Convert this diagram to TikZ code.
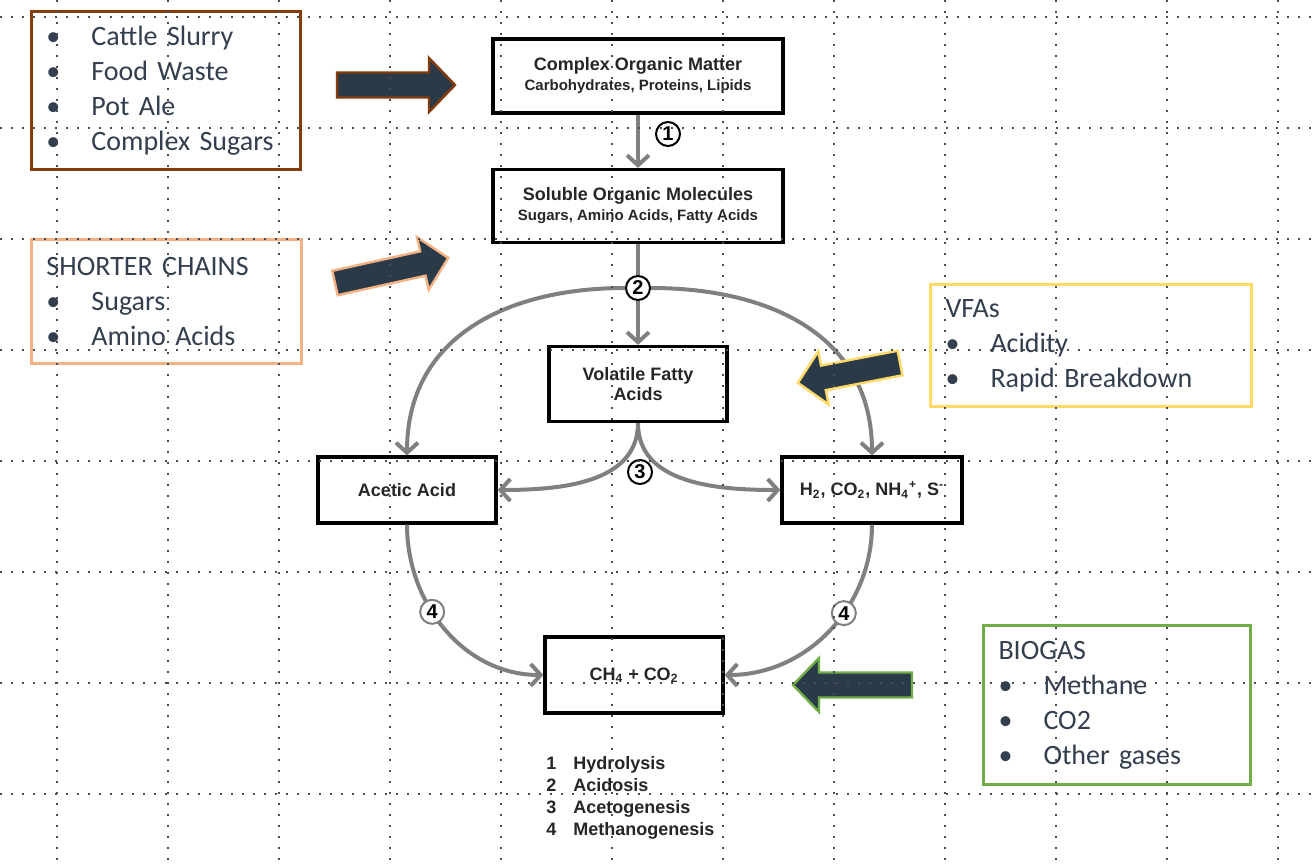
\documentclass[tikz,border=0pt]{standalone}
\usepackage{fontspec}
\setmainfont{Carlito}
\newfontfamily\arialfont{Liberation Sans}
\usetikzlibrary{arrows.meta}

\definecolor{brownc}{HTML}{843C0C}
\definecolor{orangec}{HTML}{F4B183}
\definecolor{yellowc}{HTML}{FFD966}
\definecolor{greenc}{HTML}{70AD47}
\definecolor{textc}{HTML}{333F4F}
\definecolor{arrowc}{HTML}{2B3A48}
\definecolor{linec}{HTML}{808080}

\newcommand{\bul}{\makebox[22.5pt][l]{\textbullet}}
% block arrow: colour, tail centre, angle, length
\newcommand{\blockarrow}[4]{%
  \filldraw[fill=arrowc, draw=#1, line width=1.2pt, line join=miter, shift={#2}, rotate=#3]
    (0,-12.5) -- ({#4-26},-12.5) -- ({#4-26},-27) -- (#4,0) -- ({#4-26},27)
    -- ({#4-26},12.5) -- (0,12.5) -- cycle;}

\tikzset{
  callout/.style={draw, line width=1.5pt, text=textc, align=left, inner xsep=7.5pt,
    inner ysep=0pt, anchor=north west, font=\fontsize{14}{17.5}\selectfont},
  stage/.style={draw, line width=1.6pt, fill=white, align=center, inner sep=0pt,
    text=black!85, font=\arialfont\bfseries\fontsize{9}{10}\selectfont},
  num/.style={circle, draw, line width=1pt, fill=white, inner sep=0pt, minimum size=12pt,
    font=\arialfont\bfseries\fontsize{10}{10}\selectfont},
  flow/.style={draw=linec, line width=2pt, -{Straight Barb[length=5pt,width=11pt]}},
  griddots/.style={black!70, line width=1pt, dash pattern=on 1pt off 4.5pt}
}
\newcommand{\subt}[1]{{\fontsize{7.5}{9}\selectfont #1}}

\begin{document}
\begin{tikzpicture}[x=0.5pt, y=-0.5pt]
  \useasboundingbox (0,0) rectangle (1315,865);
  \fill[white] (0,0) rectangle (1315,865);

  % digestion stages
  \node[stage, minimum width=145pt, minimum height=37pt] (com) at (638,76)
    {Complex Organic Matter\\ \subt{Carbohydrates,\ Proteins,\ Lipids}};
  \node[stage, minimum width=145pt, minimum height=36.5pt] (som) at (638,206)
    {Soluble Organic Molecules\\ \subt{Sugars, Amino Acids, Fatty Acids}};
  \node[stage, minimum width=89pt, minimum height=37.5pt] (vfa) at (638,384)
    {Volatile Fatty\\ Acids};
  \node[stage, minimum width=89pt, minimum height=33pt] (acetic) at (407,490)
    {Acetic Acid};
  \node[stage, minimum width=90pt, minimum height=33pt] (gases) at (872,490)
    {H\textsubscript{2}, CO\textsubscript{2}, NH\textsubscript{4}\textsuperscript{+}, S\textsuperscript{-}};
  \node[stage, minimum width=89pt, minimum height=38pt] (ch4) at (634,675)
    {CH\textsubscript{4} + CO\textsubscript{2}};

  \node[num] (n2) at (638,288) {2};

  % pathways
  \draw[flow] (com) -- (som);
  \node[num] (n1) at (668,134) {1};
  \draw[draw=linec, line width=2pt] (som) -- (n2);
  \draw[flow] (n2) -- (vfa);
  \draw[flow] (n2.west) to[out=180, in=90, looseness=1.1] (acetic.north);
  \draw[flow] (n2.east) to[out=0, in=90, looseness=1.1] (gases.north);
  \draw[flow] (vfa.south) to[out=-90, in=0] (acetic.east);
  \draw[flow] (vfa.south) to[out=-90, in=180] (gases.west);
  \node[num] (n3) at (640,472) {3};
  \draw[flow] (acetic.south) to[out=-90, in=180]
    node[num, pos=0.4] (n4a) {4} (ch4.west);
  \draw[flow] (gases.south) to[out=-90, in=0]
    node[num, pos=0.4] (n4b) {4} (ch4.east);

  \node[anchor=north west, inner sep=0pt, font=\arialfont\bfseries\fontsize{9}{11}\selectfont,
    text=black!85] (key) at (546,754)
    {\begin{tabular}{@{}l@{\hspace{8.5pt}}l@{}}
      1 & Hydrolysis\\ 2 & Acidosis\\ 3 & Acetogenesis\\ 4 & Methanogenesis
    \end{tabular}};

  % notes
  \node[callout, draw=brownc, text width=119.5pt, minimum height=79pt] (feed) at (30,10)
    {\bul Cattle Slurry\\ \bul Food Waste\\ \bul Pot Ale\\ \bul Complex Sugars};
  \node[callout, draw=orangec, text width=120pt, minimum height=62pt] (chains) at (30,238)
    {SHORTER CHAINS\\ \bul Sugars\\ \bul Amino Acids};
  \node[callout, draw=yellowc, text width=145.5pt, minimum height=61pt] (vfas) at (929,283)
    {VFAs\\ \bul Acidity\\ \bul Rapid Breakdown};
  \node[callout, draw=greenc, text width=118.5pt, minimum height=79.5pt] (biogas) at (982,624)
    {BIOGAS\\ \bul Methane\\ \bul CO2\\ \bul Other gases};

  \blockarrow{brownc}{(337,85)}{0}{118}
  \blockarrow{orangec}{(335,283)}{12.5}{116}
  \blockarrow{yellowc}{(900,363)}{191}{104}
  \blockarrow{greenc}{(912,685)}{180}{119}

  % grid
  \foreach \gx in {0,...,11}
    \draw[griddots] ({57+111*\gx},0) -- ({57+111*\gx},865);
  \foreach \gy in {0,...,7}
    \draw[griddots] (0,{17+111*\gy}) -- (1315,{17+111*\gy});
\end{tikzpicture}
\end{document}
